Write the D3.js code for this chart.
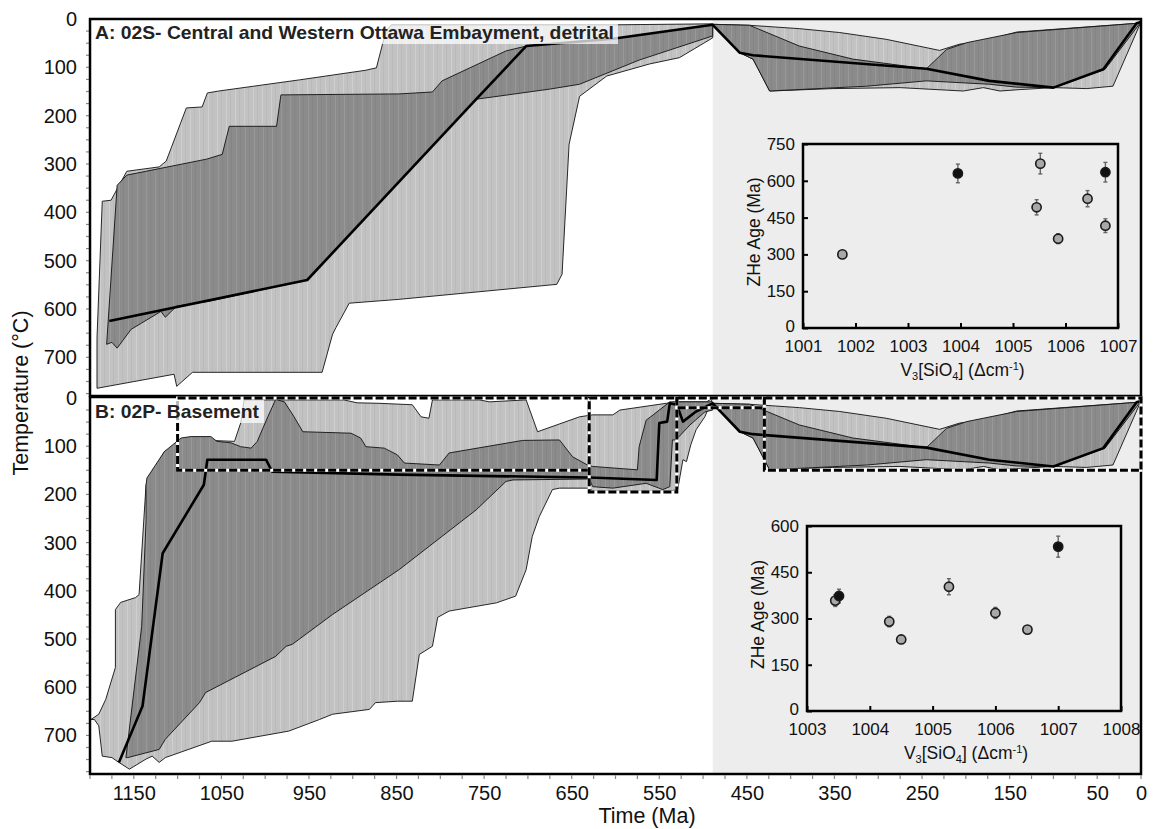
<!DOCTYPE html>
<html>
<head>
<meta charset="utf-8">
<script src="https://cdn.jsdelivr.net/npm/d3@7"></script>
<style>
  body { margin: 0; background: #fff; }
  text { font-family: "Liberation Sans", Arial, sans-serif; }
</style>
</head>
<body>
<svg id="chart" width="1153" height="829"></svg>
<script>
// tick labels
var timeTicks = [1150, 1050, 950, 850, 750, 650, 550, 450, 350, 250, 150, 50, 0];
var tempTicks = [0, 100, 200, 300, 400, 500, 600, 700];
var shadeFrom = 489;

// envelopes as [time Ma, temperature C]
var acceptA = [[1192,660],[1186,377],[1176,375],[1158,315],[1121,306],[1113,294],[1090,184],[1072,182],[1066,153],[1053,149],[961,126],[885,106],[873,101],[866,52],[862,25],[856,12],[600,12],[489,10],[489,39],[527,80],[561,93],[610,118],[641,160],[653,259],[661,528],[667,549],[847,580],[904,588],[919,638],[923,652],[935,731],[1083,731],[1101,760],[1104,735],[1192,764]];
var goodA = [[1181,673],[1169,344],[1158,323],[1067,290],[1049,280],[1041,222],[987,222],[982,157],[847,155],[809,151],[798,128],[725,66],[702,56],[603,41],[489,12],[489,35],[573,85],[641,135],[675,145],[759,166],[952,540],[1064,584],[1101,594],[1114,617],[1119,605],[1141,629],[1153,642],[1169,681],[1175,669]];
var bestA = [[1178,625],[952,540],[759,166],[702,56],[603,41],[489,12]];

var acceptB = [[1199,667],[1190,656],[1182,625],[1171,559],[1171,439],[1165,424],[1148,414],[1144,408],[1136,180],[1115,111],[1075,87],[1035,90],[1028,52],[1024,4],[910,4],[895,10],[870,11],[832,14],[822,39],[813,42],[809,4],[755,4],[744,8],[702,4],[689,70],[641,39],[626,35],[603,35],[595,25],[542,11],[531,8],[496,8],[489,0],[498,39],[508,66],[514,97],[519,132],[523,128],[529,190],[538,193],[626,193],[630,187],[664,187],[672,190],[687,246],[695,287],[702,356],[714,411],[736,425],[790,442],[803,455],[809,515],[824,532],[832,629],[849,629],[874,632],[881,646],[923,656],[938,667],[973,691],[1038,712],[1061,712],[1114,746],[1121,756],[1129,743],[1136,749],[1155,770],[1167,756],[1175,746],[1186,743],[1190,680],[1195,667]];
var goodB = [[1159,746],[1141,474],[1136,253],[1136,180],[1135,166],[1115,111],[1096,83],[1085,80],[1062,80],[1055,90],[1039,93],[1028,101],[1016,104],[1009,90],[997,39],[988,3],[978,8],[967,39],[957,70],[902,73],[891,83],[885,101],[864,104],[849,118],[841,135],[801,139],[790,114],[706,88],[664,87],[649,122],[632,139],[626,142],[575,149],[573,101],[565,46],[557,35],[538,8],[531,8],[489,8],[489,25],[498,29],[515,56],[531,87],[535,87],[538,184],[546,190],[565,177],[603,187],[626,184],[630,168],[717,170],[725,173],[759,232],[847,356],[923,449],[969,511],[976,515],[988,536],[1068,611],[1075,632],[1114,708],[1121,729],[1157,746]];
var bestB = [[1167,756],[1140,639],[1117,322],[1070,180],[1066,128],[999,128],[992,153],[847,159],[630,165],[553,170],[550,52],[541,49],[538,11],[530,14],[523,49],[508,28],[489,11]];

// post-Ordovician part, the same in both panels
var acceptRecent = [[489,11],[447,13],[390,20],[344,28],[291,42],[230,65],[207,52],[180,46],[142,27],[5,9],[0,6],[32,139],[62,144],[100,142],[138,146],[161,149],[180,142],[203,149],[275,142],[352,144],[424,149],[443,83],[458,70]];
var goodRecent = [[489,11],[447,13],[390,56],[329,83],[245,103],[222,63],[199,49],[142,28],[5,9],[0,6],[41,104],[100,142],[142,141],[173,135],[245,128],[313,139],[424,149],[443,83],[458,70]];
var bestRecent = [[458,70],[443,75],[245,103],[173,128],[100,142],[43,104],[5,9],[0,6]];

// constraint boxes in B: [t start, t end, T top, T bottom]
var boxesB = [[1100,630,0,150],[630,530,0,195],[530,430,0,20],[430,0,0,150]];

// inset scatter data
var ramanA = [1001.75,1003.95,1005.45,1005.52,1005.86,1006.42,1006.76,1006.76];
var ageA   = [300,630,492,670,364,527,635,417];
var errA   = [8,38,31,42,20,33,40,28];
var solidA = [0,1,0,0,0,0,1,0];

var ramanB = [1003.45,1003.51,1004.31,1004.5,1005.26,1006.0,1006.51,1007.0];
var ageB   = [358,373,290,232,403,318,264,533];
var errB   = [19,22,17,10,26,18,12,34];
var solidB = [0,1,0,0,0,0,0,1];

var svg = d3.select("#chart");
var left = 90, right = 1141;
var FONT = '"Liberation Sans", Arial, sans-serif';

var x = d3.scaleLinear().domain([1200, 0]).range([left, right]);

var defs = svg.append("defs");
function stripes(id, base, lines) {
  var p = defs.append("pattern").attr("id", id)
    .attr("patternUnits", "userSpaceOnUse")
    .attr("width", 9).attr("height", 10);
  p.append("rect").attr("width", 9).attr("height", 10).attr("fill", base);
  lines.forEach(function(l) {
    p.append("rect").attr("x", l[0]).attr("width", l[2]).attr("height", 10).attr("fill", l[1]);
  });
}
stripes("lightFill", "#c2c2c2", [[1, "#cfcfcf", 1], [5, "#bababa", 1]]);
stripes("darkFill", "#8b8b8b", [[2, "#989898", 1], [6, "#848484", 1]]);

var panels = [
  { top: 19, bottom: 396, accept: acceptA, good: goodA, best: bestA,
    title: "A: 02S- Central and Western Ottawa Embayment, detrital", titleW: 519, boxW: 526 },
  { top: 398, bottom: 774, accept: acceptB, good: goodB, best: bestB,
    title: "B: 02P- Basement", titleW: 164, boxW: 172 }
];

// shaded interval
svg.append("rect")
  .attr("x", x(shadeFrom)).attr("y", 19)
  .attr("width", x(0) - x(shadeFrom)).attr("height", 774 - 19)
  .attr("fill", "#ededed");

panels.forEach(function(p, i) {
  var y = d3.scaleLinear().domain([0, 780]).range([p.top, p.bottom]);
  var line = d3.line().x(d => x(d[0])).y(d => y(d[1]));

  defs.append("clipPath").attr("id", "clip" + i)
    .append("rect").attr("x", left).attr("y", p.top)
    .attr("width", right - left).attr("height", p.bottom - p.top);

  var g = svg.append("g").attr("clip-path", "url(#clip" + i + ")");

  function env(data, fill) {
    g.append("path")
      .attr("d", line(data) + "Z")
      .attr("fill", fill)
      .attr("stroke", "#111")
      .attr("stroke-width", 0.9)
      .attr("stroke-linejoin", "round");
  }
  env(p.accept, "url(#lightFill)");
  env(p.good, "url(#darkFill)");
  env(acceptRecent, "url(#lightFill)");
  env(goodRecent, "url(#darkFill)");

  g.append("path")
    .attr("d", line(p.best.concat(bestRecent)))
    .attr("fill", "none")
    .attr("stroke", "#000")
    .attr("stroke-width", 2.6)
    .attr("stroke-linejoin", "round");

  // left axis
  var ax = svg.append("g")
    .attr("transform", "translate(" + left + ",0)")
    .call(d3.axisLeft(y).tickValues(tempTicks).tickSize(0).tickPadding(13));
  ax.select(".domain").remove();
  ax.selectAll("text").attr("font-size", 20).attr("fill", "#111")
    .style("font-family", FONT);

  svg.append("g").selectAll("line")
    .data(d3.range(25, 780, 25))
    .join("line")
    .attr("x1", left - 4).attr("x2", left)
    .attr("y1", d => y(d)).attr("y2", d => y(d))
    .attr("stroke", "#888").attr("stroke-width", 1.2);

  p.y = y;
});

// frames
svg.append("rect").attr("x", left).attr("y", 19)
  .attr("width", right - left).attr("height", 396 - 19)
  .attr("fill", "none").attr("stroke", "#000").attr("stroke-width", 2.5);
svg.append("rect").attr("x", left).attr("y", 397)
  .attr("width", right - left).attr("height", 774 - 397)
  .attr("fill", "none").attr("stroke", "#000").attr("stroke-width", 2.5);

// constraint boxes in B
var yB = panels[1].y;
boxesB.forEach(function(b) {
  var r = { x: x(b[0]), y: yB(b[2]), w: x(b[1]) - x(b[0]), h: yB(b[3]) - yB(b[2]) };
  svg.append("rect").attr("x", r.x).attr("y", r.y).attr("width", r.w).attr("height", r.h)
    .attr("fill", "none").attr("stroke", "#fff").attr("stroke-width", 3);
  svg.append("rect").attr("x", r.x).attr("y", r.y).attr("width", r.w).attr("height", r.h)
    .attr("fill", "none").attr("stroke", "#000").attr("stroke-width", 3)
    .attr("stroke-dasharray", "8,3");
});

// panel titles, on top of the boxes
panels.forEach(function(p) {
  svg.append("rect")
    .attr("x", 92).attr("y", p.top + 2)
    .attr("width", p.boxW).attr("height", 23)
    .attr("fill", "#fff").attr("fill-opacity", 0.72);
  svg.append("text")
    .attr("x", 95).attr("y", p.top + 20)
    .attr("font-size", 18.5).attr("font-weight", "bold")
    .attr("fill", "#222")
    .attr("textLength", p.titleW).attr("lengthAdjust", "spacingAndGlyphs")
    .text(p.title);
});

// bottom axis
var bx = svg.append("g")
  .attr("transform", "translate(0,774)")
  .call(d3.axisBottom(x).tickValues(timeTicks).tickSize(0).tickPadding(12).tickFormat(d3.format("d")));
bx.select(".domain").remove();
bx.selectAll("text").attr("font-size", 20).attr("fill", "#111")
  .style("font-family", FONT);

svg.append("g").selectAll("line")
  .data(d3.range(0, 1201, 25))
  .join("line")
  .attr("x1", d => x(d)).attr("x2", d => x(d))
  .attr("y1", 775).attr("y2", 779)
  .attr("stroke", "#888").attr("stroke-width", 1.2);

svg.append("text")
  .attr("x", 647).attr("y", 823)
  .attr("text-anchor", "middle").attr("font-size", 21.5).attr("fill", "#111")
  .text("Time (Ma)");

svg.append("text")
  .attr("transform", "translate(28,393) rotate(-90)")
  .attr("text-anchor", "middle").attr("font-size", 21.5).attr("fill", "#111")
  .text("Temperature (°C)");

// insets
function inset(cfg) {
  var ix = d3.scaleLinear().domain(cfg.xDomain).range(cfg.xRange);
  var iy = d3.scaleLinear().domain(cfg.yDomain).range(cfg.yRange);
  var g = svg.append("g");

  g.append("rect")
    .attr("x", cfg.xRange[0]).attr("y", cfg.yRange[1])
    .attr("width", cfg.xRange[1] - cfg.xRange[0])
    .attr("height", cfg.yRange[0] - cfg.yRange[1])
    .attr("fill", "#ededed");

  var xa = g.append("g").attr("transform", "translate(0," + cfg.yRange[0] + ")")
    .call(d3.axisBottom(ix).tickValues(cfg.xTicks).tickSizeInner(-5).tickSizeOuter(0).tickPadding(12).tickFormat(d3.format("d")));
  var ya = g.append("g").attr("transform", "translate(" + cfg.xRange[0] + ",0)")
    .call(d3.axisLeft(iy).tickValues(cfg.yTicks).tickSizeInner(-5).tickSizeOuter(0).tickPadding(8));
  [xa, ya].forEach(function(a) {
    a.select(".domain").remove();
    a.selectAll("line").attr("stroke", "#000").attr("stroke-width", 2);
    a.selectAll("text").attr("font-size", 17).attr("fill", "#111")
      .style("font-family", FONT);
  });
  // keep the corner labels apart
  ya.selectAll("text").filter(d => d === 0).attr("dy", "0.2em");

  g.append("rect")
    .attr("x", cfg.xRange[0]).attr("y", cfg.yRange[1])
    .attr("width", cfg.xRange[1] - cfg.xRange[0])
    .attr("height", cfg.yRange[0] - cfg.yRange[1])
    .attr("fill", "none").attr("stroke", "#000").attr("stroke-width", 2.5);

  var pts = cfg.v.map((v, i) => ({ v: v, age: cfg.age[i], err: cfg.err[i], solid: cfg.solid[i] }))
    .sort((a, b) => a.solid - b.solid);

  var eb = g.append("g").attr("stroke", "#666").attr("stroke-width", 1.4);
  pts.forEach(function(d) {
    var cx = ix(d.v);
    eb.append("line").attr("x1", cx).attr("x2", cx)
      .attr("y1", iy(d.age - d.err)).attr("y2", iy(d.age + d.err));
    [d.age - d.err, d.age + d.err].forEach(function(e) {
      eb.append("line").attr("x1", cx - 2).attr("x2", cx + 2)
        .attr("y1", iy(e)).attr("y2", iy(e));
    });
  });

  g.selectAll("circle.pt").data(pts).join("circle")
    .attr("class", "pt")
    .attr("cx", d => ix(d.v)).attr("cy", d => iy(d.age))
    .attr("r", 4.6)
    .attr("fill", d => d.solid ? "#111" : "#a8a8a8")
    .attr("stroke", "#1a1a1a").attr("stroke-width", 1.6);

  var midY = (cfg.yRange[0] + cfg.yRange[1]) / 2;
  g.append("text")
    .attr("transform", "translate(" + (cfg.xRange[0] - 43) + "," + (midY - 4) + ") rotate(-90)")
    .attr("text-anchor", "middle").attr("font-size", 17.5).attr("fill", "#111")
    .text("ZHe Age (Ma)");

  var t = g.append("text")
    .attr("x", (cfg.xRange[0] + cfg.xRange[1]) / 2 + 2)
    .attr("y", cfg.yRange[0] + 48)
    .attr("text-anchor", "middle").attr("font-size", 17.5).attr("fill", "#111");
  t.append("tspan").text("V");
  t.append("tspan").attr("font-size", 11).attr("dy", 4).text("3");
  t.append("tspan").attr("dy", -4).text("[SiO");
  t.append("tspan").attr("font-size", 11).attr("dy", 4).text("4");
  t.append("tspan").attr("dy", -4).text("] (\u0394cm");
  t.append("tspan").attr("font-size", 11).attr("dy", -6).text("-1");
  t.append("tspan").attr("dy", 6).text(")");
}

inset({ xDomain: [1001, 1007], xRange: [803, 1118], yDomain: [0, 750], yRange: [328, 144],
        xTicks: d3.range(1001, 1008), yTicks: [0, 150, 300, 450, 600, 750],
        v: ramanA, age: ageA, err: errA, solid: solidA });
inset({ xDomain: [1003, 1008], xRange: [807, 1121], yDomain: [0, 600], yRange: [711, 526],
        xTicks: d3.range(1003, 1009), yTicks: [0, 150, 300, 450, 600],
        v: ramanB, age: ageB, err: errB, solid: solidB });
</script>
</body>
</html>
